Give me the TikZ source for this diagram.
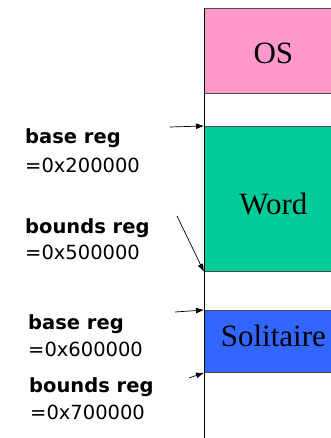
\documentclass[tikz,border=0pt]{standalone}
\usepackage{fontspec}
\setmainfont{Liberation Serif}
\newfontfamily\regfont{DejaVu Sans}
\usepackage{tikz}
\usetikzlibrary{arrows.meta}

\definecolor{ospink}{HTML}{FF99CC}
\definecolor{wordgreen}{HTML}{00CC99}
\definecolor{solblue}{HTML}{3366FF}

\begin{document}
\begin{tikzpicture}[x=1pt, y=-1pt,
	membox/.style={draw=black!70, thick, anchor=north west, minimum width=138pt, inner sep=0pt},
	boxtext/.style={font=\fontsize{31}{34}\selectfont, inner sep=0pt},
	reg/.style={anchor=base west, inner sep=0pt, font=\regfont\fontsize{19.5}{22}\selectfont},
	ptr/.style={-{Latex[length=8pt,width=6pt]}, line width=0.7pt}]
	\useasboundingbox (0,0) rectangle (330,438);

	\node[membox, fill=ospink, minimum height=85pt, label={[boxtext, yshift=-2pt]center:OS}] (os) at (204,8) {};
	\node[membox, fill=wordgreen, minimum height=145pt, label={[boxtext, yshift=-5pt]center:Word}] (word) at (204,126) {};
	\node[membox, fill=solblue, minimum height=62pt, label={[boxtext, yshift=6pt]center:Solitaire}] (sol) at (204,310) {};
	\coordinate (top) at (204,8);
	\coordinate (bottom) at (204,438);
	\draw[line width=0.8pt] (top) -- (bottom);

	\node[reg] (base1) at (25,144) {\bfseries base reg};
	\node[reg] (val1) at (25,173) {=0x200000};
	\node[reg] (bound1) at (25,233) {\bfseries bounds reg};
	\node[reg] (val2) at (25,259) {=0x500000};
	\node[reg] (base2) at (28,329) {\bfseries base reg};
	\node[reg] (val3) at (28,356) {=0x600000};
	\node[reg] (bound2) at (29,392) {\bfseries bounds reg};
	\node[reg] (val4) at (30,419) {=0x700000};

	\coordinate (a1) at (170,127);
	\coordinate (a2) at (177,216);
	\coordinate (a3) at (175,312);
	\coordinate (a4) at (189,378);
	\draw[ptr] (a1) -- (word.north west);
	\draw[ptr] (a2) -- (word.south west);
	\draw[ptr] (a3) -- (sol.north west);
	\draw[ptr] (a4) -- (sol.south west);
\end{tikzpicture}
\end{document}
